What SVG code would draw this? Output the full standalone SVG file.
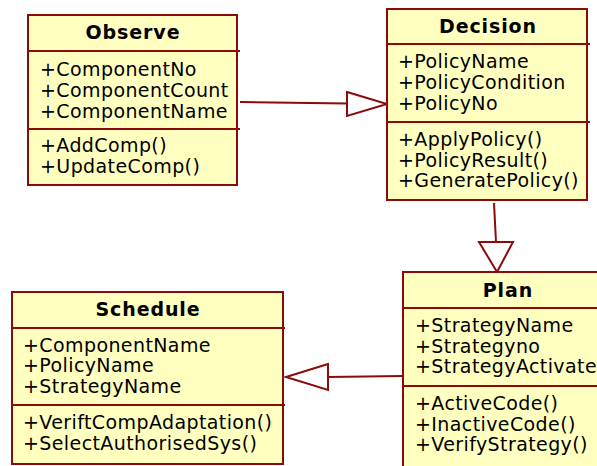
<svg xmlns="http://www.w3.org/2000/svg" width="597" height="466" viewBox="0 0 597 466">
<style>
.box{fill:#FFFFC0;stroke:#8B0A0A;stroke-width:2}
.div{stroke:#8B0A0A;stroke-width:2}
.t{font-family:"DejaVu Sans",Verdana,sans-serif;font-size:19px;font-weight:bold;text-anchor:middle;fill:#000;letter-spacing:0.9px}
.a{font-family:"DejaVu Sans",Verdana,sans-serif;font-size:19px;fill:#000;letter-spacing:0.4px}
.c{stroke:#8B0A0A;stroke-width:2;fill:none}
.h{stroke:#8B0A0A;stroke-width:2;fill:#fff}
</style>
<rect width="597" height="466" fill="#fff"/>
<g id="connectors">
<line class="c" x1="240" y1="102" x2="347" y2="103.5"/>
<polygon class="h" points="347,92 387,104 347,116"/>
<line class="c" x1="494" y1="203" x2="496" y2="242"/>
<polygon class="h" points="479,242 513,242 497,272"/>
<line class="c" x1="403" y1="376" x2="328" y2="377"/>
<polygon class="h" points="328,364 286,377 328,390"/>
</g>
<g id="Observe">
<rect class="box" x="28" y="15" width="209" height="170"/>
<line class="div" x1="28" y1="51" x2="240" y2="51"/>
<line class="div" x1="28" y1="129" x2="240" y2="129"/>
<text class="t" x="133" y="39">Observe</text>
<text class="a" x="40" y="76">+ComponentNo</text>
<text class="a" x="40" y="97">+ComponentCount</text>
<text class="a" x="40" y="118">+ComponentName</text>
<text class="a" x="40" y="152">+AddComp()</text>
<text class="a" x="40" y="173">+UpdateComp()</text>
</g>
<g id="Decision">
<rect class="box" x="387" y="9" width="200" height="191"/>
<line class="div" x1="387" y1="44" x2="590" y2="44"/>
<line class="div" x1="387" y1="122" x2="590" y2="122"/>
<text class="t" x="488" y="33">Decision</text>
<text class="a" x="398" y="68">+PolicyName</text>
<text class="a" x="398" y="89">+PolicyCondition</text>
<text class="a" x="398" y="110">+PolicyNo</text>
<text class="a" x="398" y="146">+ApplyPolicy()</text>
<text class="a" x="398" y="167">+PolicyResult()</text>
<text class="a" x="398" y="187">+GeneratePolicy()</text>
</g>
<g id="Plan">
<rect class="box" x="403" y="272" width="210" height="200"/>
<line class="div" x1="403" y1="308" x2="613" y2="308"/>
<line class="div" x1="403" y1="386" x2="613" y2="386"/>
<text class="t" x="508" y="297">Plan</text>
<text class="a" x="415" y="332">+StrategyName</text>
<text class="a" x="415" y="353">+Strategyno</text>
<text class="a" x="415" y="373">+StrategyActivate</text>
<text class="a" x="415" y="410">+ActiveCode()</text>
<text class="a" x="415" y="431">+InactiveCode()</text>
<text class="a" x="415" y="451">+VerifyStrategy()</text>
</g>
<g id="Schedule">
<rect class="box" x="12" y="292" width="271" height="172"/>
<line class="div" x1="12" y1="328" x2="285" y2="328"/>
<line class="div" x1="12" y1="405" x2="285" y2="405"/>
<text class="t" x="148" y="316">Schedule</text>
<text class="a" x="23" y="352">+ComponentName</text>
<text class="a" x="23" y="372">+PolicyName</text>
<text class="a" x="23" y="393">+StrategyName</text>
<text class="a" x="23" y="429">+VeriftCompAdaptation()</text>
<text class="a" x="23" y="450">+SelectAuthorisedSys()</text>
</g>
</svg>
